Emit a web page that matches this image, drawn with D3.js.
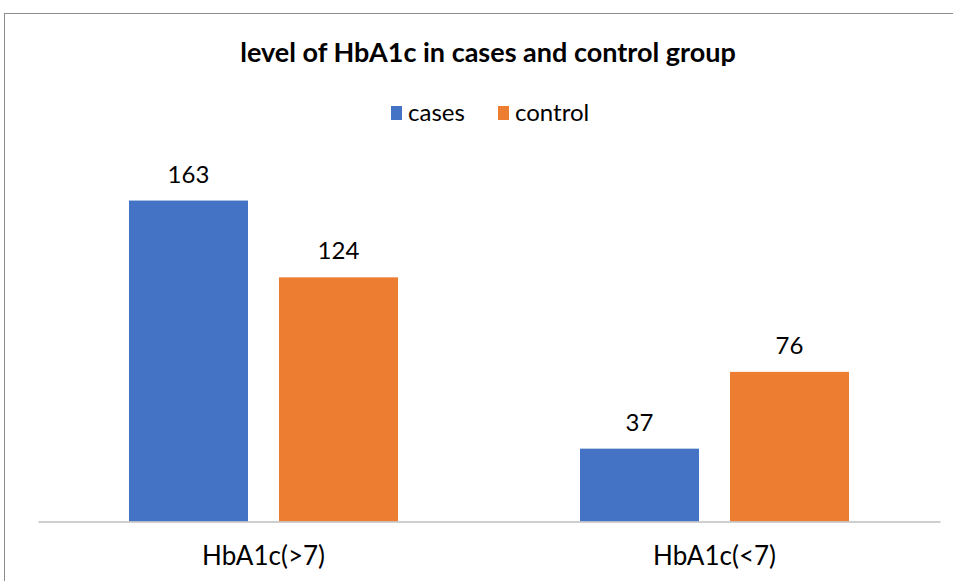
<!DOCTYPE html>
<html>
<head>
<meta charset="utf-8">
<script src="https://cdn.jsdelivr.net/npm/d3@7/dist/d3.min.js"></script>
<style>
  html, body { margin: 0; padding: 0; background: #fff; }
  svg { display: block; }
  text { font-family: Lato, "Open Sans", sans-serif; fill: #000; }
</style>
</head>
<body>
<svg id="chart" width="953" height="581"></svg>
<script>
// chart data
var categories = ['HbA1c(>7)', 'HbA1c(<7)'];
var seriesNames = ['cases', 'control'];
var casesValues = [163, 37];
var controlValues = [124, 76];
var seriesColors = ['#4472C4', '#ED7D31'];

var W = 953, H = 581;
var plotLeft = 38, plotRight = 940, baseY = 521.5;
var svg = d3.select('#chart');

// outer border
svg.append('rect')
	.attr('x', 4.5).attr('y', 13.5)
	.attr('width', W + 20).attr('height', H + 20)
	.attr('fill', 'none').attr('stroke', '#8c8c8c').attr('stroke-width', 1);

// title
svg.append('text')
	.attr('x', 488).attr('y', 62)
	.attr('text-anchor', 'middle')
	.attr('font-size', 27).attr('font-weight', 'bold')
	.text('level of HbA1c in cases and control group');

// scales
var x0 = d3.scaleBand().domain(categories).range([plotLeft, plotRight]).padding(0);
var groupW = 269;
var x1 = d3.scaleBand().domain(seriesNames)
	.range([(x0.bandwidth() - groupW) / 2, (x0.bandwidth() + groupW) / 2])
	.paddingInner(31 / 150).paddingOuter(0);
var y = d3.scaleLinear().domain([0, 180]).range([baseY, baseY - 180 * 1.969]);

var rows = categories.map(function(c, i){
	return {cat: c, vals: [casesValues[i], controlValues[i]]};
});

var groups = svg.selectAll('g.grp').data(rows).enter()
	.append('g').attr('class', 'grp')
	.attr('transform', function(d){ return 'translate(' + x0(d.cat) + ',0)'; });

groups.selectAll('rect').data(function(d){
		return d.vals.map(function(v, j){ return {name: seriesNames[j], v: v, color: seriesColors[j]}; });
	}).enter()
	.append('rect')
	.attr('x', function(d){ return x1(d.name); })
	.attr('y', function(d){ return y(d.v); })
	.attr('width', x1.bandwidth())
	.attr('height', function(d){ return baseY - y(d.v); })
	.attr('fill', function(d){ return d.color; });

groups.selectAll('text.lbl').data(function(d){
		return d.vals.map(function(v, j){ return {name: seriesNames[j], v: v}; });
	}).enter()
	.append('text').attr('class', 'lbl')
	.attr('x', function(d){ return x1(d.name) + x1.bandwidth() / 2; })
	.attr('y', function(d){ return y(d.v) - 18; })
	.attr('text-anchor', 'middle')
	.attr('font-size', 24)
	.text(function(d){ return d.v; });

// x axis
var xAxis = svg.append('g')
	.attr('transform', 'translate(0,' + baseY + ')')
	.call(d3.axisBottom(x0).tickSize(0).tickPadding(25));
xAxis.select('.domain').attr('stroke', '#bfbfbf').attr('stroke-width', 1.3);
xAxis.selectAll('text')
	.attr('font-size', 26)
	.attr('font-family', 'Lato, "Open Sans", sans-serif')
	.attr('fill', '#000');

// legend
var legend = svg.append('g').attr('transform', 'translate(391,104)');
var legX = [0, 107];
seriesNames.forEach(function(n, i){
	legend.append('rect')
		.attr('x', legX[i]).attr('y', 2)
		.attr('width', 11).attr('height', 14)
		.attr('fill', seriesColors[i]);
	legend.append('text')
		.attr('x', legX[i] + 17).attr('y', 17)
		.attr('font-size', 24)
		.text(n);
});
</script>
</body>
</html>
